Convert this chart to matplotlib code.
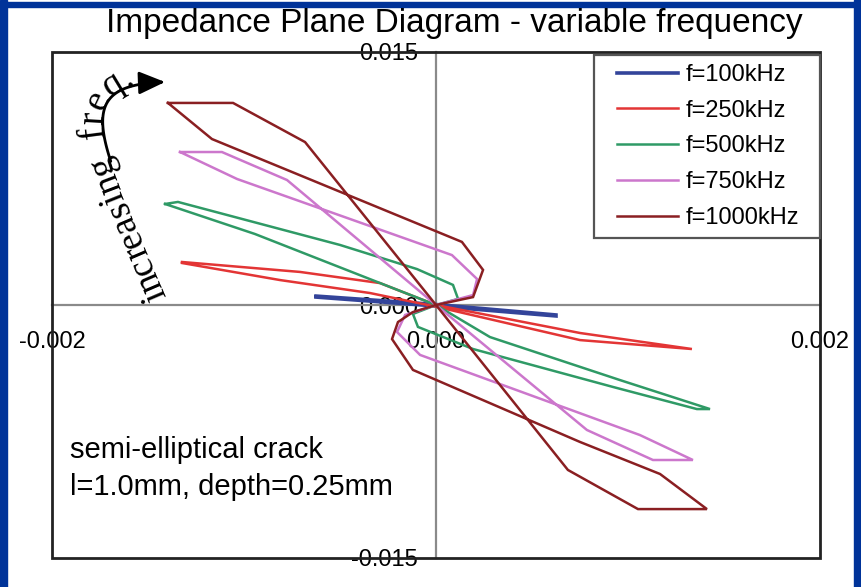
import numpy as np
import matplotlib
matplotlib.use("Agg")
import matplotlib.pyplot as plt
from matplotlib.patches import Rectangle, FancyArrowPatch
from matplotlib.path import Path
from matplotlib.font_manager import FontProperties

W, H = 861, 587

labels = ["f=100kHz", "f=250kHz", "f=500kHz", "f=750kHz", "f=1000kHz"]
colors = ["#33449a", "#e33535", "#2f9a66", "#cc77cc", "#8a1f22"]

x100 = [-0.000625, 0.0, 0.000625, 0.000625, 0.0, -0.000625]
y100 = [0.00053, 0.00003, -0.00059, -0.00065, -0.00006, 0.00047]

x250 = [-0.001323, -0.000708, -0.000292, 0.0, 0.00075, 0.001333, 0.00075, 0.0, -0.000344, -0.000813, -0.001323]
y250 = [0.00255, 0.00196, 0.0013, 0.0, -0.00166, -0.00261, -0.00208, -0.0001, 0.00071, 0.00148, 0.00249]

x500 = [-0.001411, -0.001344, -0.0005, -0.000099, 0.0000885, 0.000115, 0.0, -0.00012, -0.000094,
        0.000193, 0.000922, 0.001359, 0.001427, 0.000958, 0.000281, 0.0, -0.000943, -0.001411]
y500 = [0.00599, 0.00611, 0.00356, 0.00213, 0.00119, 0.00036, 0.0, -0.00053, -0.0013,
        -0.00261, -0.00486, -0.00617, -0.00617, -0.00445, -0.0019, 0.0, 0.00421, 0.00599]

x750 = [-0.001333, -0.001036, 0.000083, 0.000214, 0.000193, 0.0, -0.000161, -0.000203, -0.000083,
        0.001062, 0.001338, 0.00113, 0.000786, 0.0, -0.000776, -0.001115, -0.001333]
y750 = [0.00907, 0.00747, 0.00296, 0.00154, 0.00059, 0.0, -0.00059, -0.0016, -0.00296,
        -0.00771, -0.00919, -0.00919, -0.00741, 0.0, 0.00741, 0.00907, 0.00907]

x1000 = [-0.001396, -0.001167, 0.000135, 0.000245, 0.000193, 0.0, -0.00012, -0.000198, -0.000229,
         -0.00012, 0.00075, 0.001167, 0.001411, 0.001052, 0.000687, 0.0, -0.000682, -0.001057, -0.001396]
y1000 = [0.01198, 0.00984, 0.00374, 0.00208, 0.00047, 0.0, -0.00042, -0.00101, -0.00202,
         -0.00385, -0.00812, -0.01002, -0.0121, -0.0121, -0.00978, 0.0, 0.00966, 0.01198, 0.01198]

series_x = [x100, x250, x500, x750, x1000]
series_y = [y100, y250, y500, y750, y1000]

xticks = [-0.002, 0.0, 0.002]
xticklabels = ["-0.002", "0.000", "0.002"]
yticks = [-0.015, 0.0, 0.015]
yticklabels = ["-0.015", "0.000", "0.015"]


def fx(px):
    return px / W


def fy(py):
    return 1 - py / H


plt.rcParams['font.family'] = ['Liberation Sans', 'DejaVu Sans']
fig = plt.figure(figsize=(W / 100, H / 100), dpi=100)
fig.patch.set_facecolor('white')

# blue slide border
border = '#003399'
fig.patches.append(Rectangle((0, 0), fx(7), 1, transform=fig.transFigure, color=border))
fig.patches.append(Rectangle((fx(854), 0), fx(7), 1, transform=fig.transFigure, color=border))
fig.patches.append(Rectangle((0, fy(7)), 1, fx(7), transform=fig.transFigure, color=border))

ax = fig.add_axes([fx(52), fy(558), fx(820) - fx(52), fy(52) - fy(558)])
ax.set_xlim(-0.002, 0.002)
ax.set_ylim(-0.015, 0.015)

for sx, sy, c, lab in zip(series_x, series_y, colors, labels):
    lw = 2.6 if lab == "f=100kHz" else 1.8
    ax.plot(sx, sy, color=c, lw=lw, label=lab, zorder=3, solid_joinstyle='miter')

# axes crossing at zero, box around the plot area
for side in ['left', 'bottom']:
    ax.spines[side].set_position(('data', 0))
    ax.spines[side].set_color('#8a8a8a')
    ax.spines[side].set_linewidth(1.6)
for side in ['top', 'right']:
    ax.spines[side].set_visible(False)
ax.add_patch(Rectangle((0, 0), 1, 1, transform=ax.transAxes, fill=False,
                       edgecolor='#222222', lw=2, clip_on=False, zorder=4))

ax.set_xticks(xticks, labels=xticklabels)
ax.set_yticks(yticks, labels=yticklabels)
ax.tick_params(axis='x', length=0, pad=19, labelsize=17)
ax.tick_params(axis='y', length=0, pad=13, labelsize=17)

# legend with its own frame
leg = ax.legend(loc='upper left', bbox_to_anchor=(fx(617), fy(64)), bbox_transform=fig.transFigure,
                frameon=False, fontsize=17, handlelength=2.6, handletextpad=0.3,
                labelspacing=0.58, borderpad=0, borderaxespad=0)
fig.patches.append(Rectangle((fx(594), fy(238)), fx(820) - fx(594), fy(55) - fy(238),
                             transform=fig.transFigure, fill=False, edgecolor='#555555', lw=1.6))

fig.text(fx(454), fy(32), "Impedance Plane Diagram - variable frequency",
         ha='center', va='baseline', fontsize=24)
fig.text(fx(70), fy(458), "semi-elliptical crack", ha='left', va='baseline', fontsize=21)
fig.text(fx(70), fy(495), "l=1.0mm, depth=0.25mm", ha='left', va='baseline', fontsize=21)


# curved "increasing freq." label with arrow
def bezier(t, P):
    P = np.asarray(P, float)
    t = np.asarray(t, float)[:, None]
    return ((1 - t) ** 3) * P[0] + 3 * (1 - t) ** 2 * t * P[1] + 3 * (1 - t) * t ** 2 * P[2] + t ** 3 * P[3]


base = [(168, 300), (100, 140), (65, 85), (165, 82)]
tt = np.linspace(0, 1, 3000)
pts = bezier(tt, base)
arc = np.concatenate([[0], np.cumsum(np.hypot(*np.diff(pts, axis=0).T))])

fsize = 27
fp = FontProperties(family='Liberation Serif', size=fsize)
renderer = fig.canvas.get_renderer()
s = 4.0
for ch in "increasing freq.":
    if ch == ' ':
        w = 0.45 * fsize * 100 / 72
    else:
        w, _, _ = renderer.get_text_width_height_descent(ch, fp, ismath=False)
    sc = s + w / 2
    t0 = np.interp(sc, arc, tt)
    p = bezier([t0], base)[0]
    d = bezier([min(t0 + 1e-3, 1)], base)[0] - bezier([max(t0 - 1e-3, 0)], base)[0]
    ang = np.degrees(np.arctan2(-d[1], d[0]))
    if ch != ' ':
        fig.text(fx(p[0]), fy(p[1]), ch, fontproperties=fp, rotation=ang,
                 rotation_mode='anchor', ha='center', va='baseline')
    s += w

# arrow follows the baseline from the end of "increasing" to past "freq."
t_start = np.interp(150, arc, tt)
seg = pts[tt >= t_start][::40]
seg = np.vstack([seg, pts[-1]])
arrow_path = Path([(fx(x), fy(y)) for x, y in seg])
fig.patches.append(FancyArrowPatch(path=arrow_path, transform=fig.transFigure,
                                   arrowstyle='-|>,head_length=0.8,head_width=0.35',
                                   mutation_scale=20, color='black', lw=2))

fig.savefig('out.png', dpi=100)
